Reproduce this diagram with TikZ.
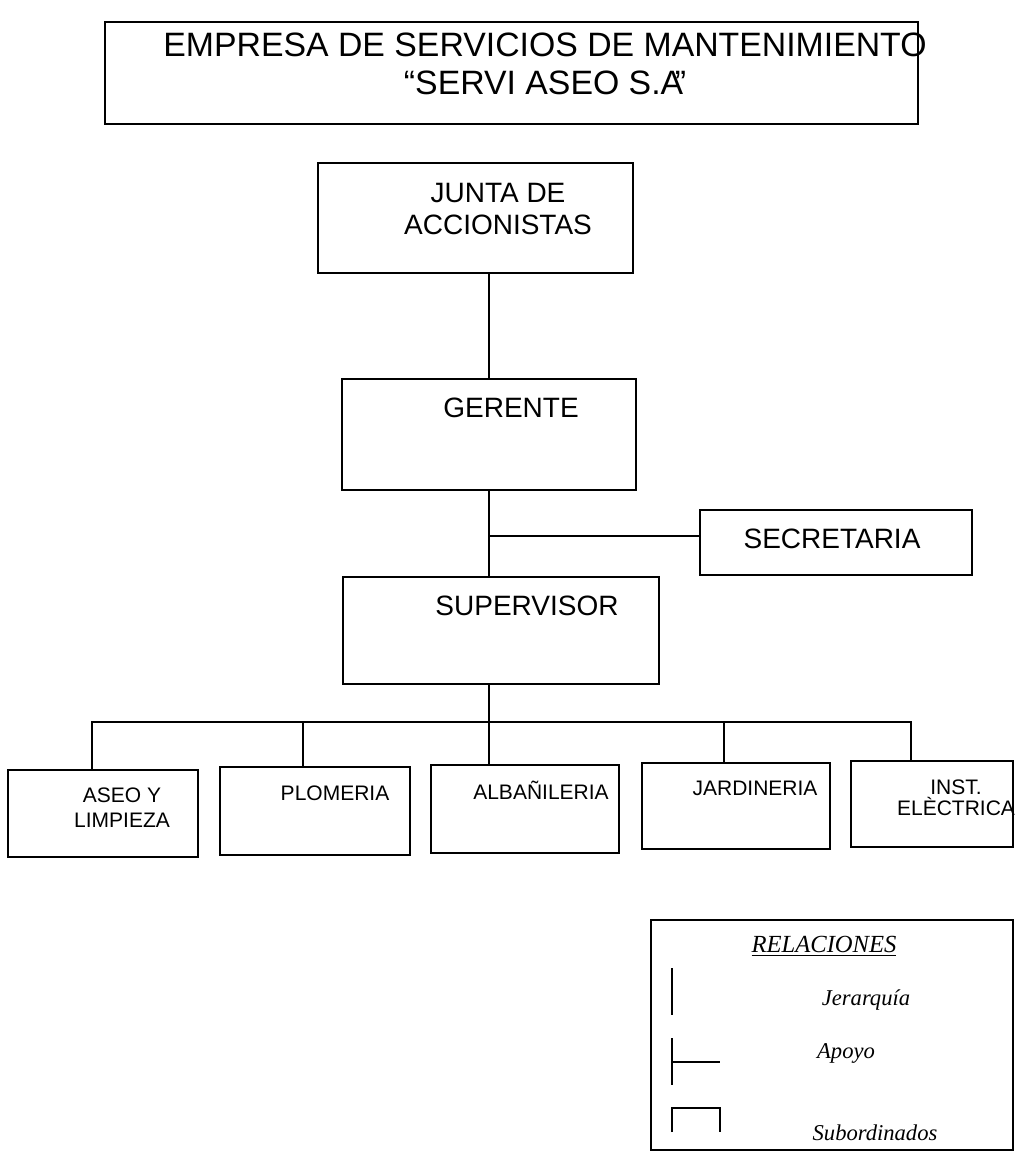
\documentclass[tikz,border=0pt]{standalone}
\usepackage{fontspec}
\setmainfont{Liberation Sans}
\newfontfamily\legendfont{Liberation Serif}
\begin{document}
\begin{tikzpicture}[x=0.5pt,y=-0.5pt]
            \tikzstyle{org box}=[draw,line width=0.9pt,inner sep=0]
            \tikzstyle{link}=[line width=0.9pt]
            \tikzstyle{title text}=[font=\fontsize{16.9}{19}\selectfont,align=center,inner sep=0]
            \tikzstyle{box text}=[font=\fontsize{14}{16}\selectfont,align=center,inner sep=0]
            \tikzstyle{small text}=[font=\fontsize{10.5}{12.5}\selectfont,align=center,inner sep=0]
            \tikzstyle{legend text}=[font=\legendfont\itshape\fontsize{11.3}{13}\selectfont,inner sep=0]

            \useasboundingbox[fill=white] (0,0) rectangle (1016,1154);

            % boxes
            \node(title)[org box,minimum width=406.5pt,minimum height=51pt] at (511.5,73) {};
            \node(junta)[org box,minimum width=157.5pt,minimum height=55pt] at (475.5,218) {};
            \node(gerente)[org box,minimum width=147pt,minimum height=55.5pt] at (489,434.5) {};
            \node(secretaria)[org box,minimum width=136pt,minimum height=32.5pt] at (836,542.5) {};
            \node(supervisor)[org box,minimum width=158pt,minimum height=53.5pt] at (501,630.5) {};
            \node(aseo)[org box,minimum width=95pt,minimum height=43.5pt] at (103,813.5) {};
            \node(plomeria)[org box,minimum width=95pt,minimum height=44pt] at (315,811) {};
            \node(albanileria)[org box,minimum width=94pt,minimum height=44pt] at (525,809) {};
            \node(jardineria)[org box,minimum width=94pt,minimum height=43pt] at (736,806) {};
            \node(inst)[org box,minimum width=81pt,minimum height=43pt] at (932,804) {};
            \node(legend)[org box,minimum width=181pt,minimum height=115pt] at (832,1035) {};

            % texts
            \node(title text)[title text] at (545,64) {EMPRESA DE SERVICIOS DE MANTENIMIENTO\\``SERVI ASEO S.A\kern-0.25em''};
            \node(junta text)[box text] at (498,209) {JUNTA DE\\ACCIONISTAS};
            \node(gerente text)[box text] at (511,408) {GERENTE};
            \node(secretaria text)[box text] at (832,539) {SECRETARIA};
            \node(supervisor text)[box text] at (527,606) {SUPERVISOR};
            \node(aseo text)[small text] at (122,807.5) {ASEO Y\\LIMPIEZA};
            \node(plomeria text)[small text] at (335,793) {PLOMERIA};
            \node(albanileria text)[small text] at (541,790) {ALBAÑILERIA};
            \node(jardineria text)[small text] at (755,788) {JARDINERIA};
            \node(inst text)[small text,font=\fontsize{10.5}{10.5}\selectfont] at (956,797.5) {INST.\\ELÈCTRICA};

            % connectors
            \coordinate(spine) at (489,0);
            \coordinate(apoyo) at (489,536);
            \coordinate(bus left) at (92,722);
            \coordinate(bus right) at (911,722);
            \coordinate(drop plo) at (303,722);
            \coordinate(drop jar) at (724,722);
            \draw[link] (junta.south -| spine) -- (gerente.north -| spine);
            \draw[link] (gerente.south -| spine) -- (supervisor.north -| spine);
            \draw[link] (apoyo) -- (apoyo -| secretaria.west);
            \draw[link] (supervisor.south -| spine) -- (albanileria.north -| spine);
            \draw[link] (aseo.north -| bus left) |- (bus right) -- (bus right |- inst.north);
            \draw[link] (drop plo) -- (drop plo |- plomeria.north);
            \draw[link] (drop jar) -- (drop jar |- jardineria.north);

            % legend
            \node(relaciones)[legend text,font=\legendfont\itshape\fontsize{12.3}{14}\selectfont] at (824,946) {\underline{RELACIONES}};
            \node(jerarquia)[legend text] at (866,1000) {Jerarquía};
            \node(apoyo text)[legend text] at (846,1053) {Apoyo};
            \node(subordinados)[legend text] at (875,1133) {Subordinados};
            \draw[link] (672,968) -- (672,1015);
            \draw[link] (672,1038) -- (672,1085) (672,1062) -- (720,1062);
            \draw[link] (672,1132) -- (672,1108) -- (720,1108) -- (720,1132);
        \end{tikzpicture}
\end{document}
